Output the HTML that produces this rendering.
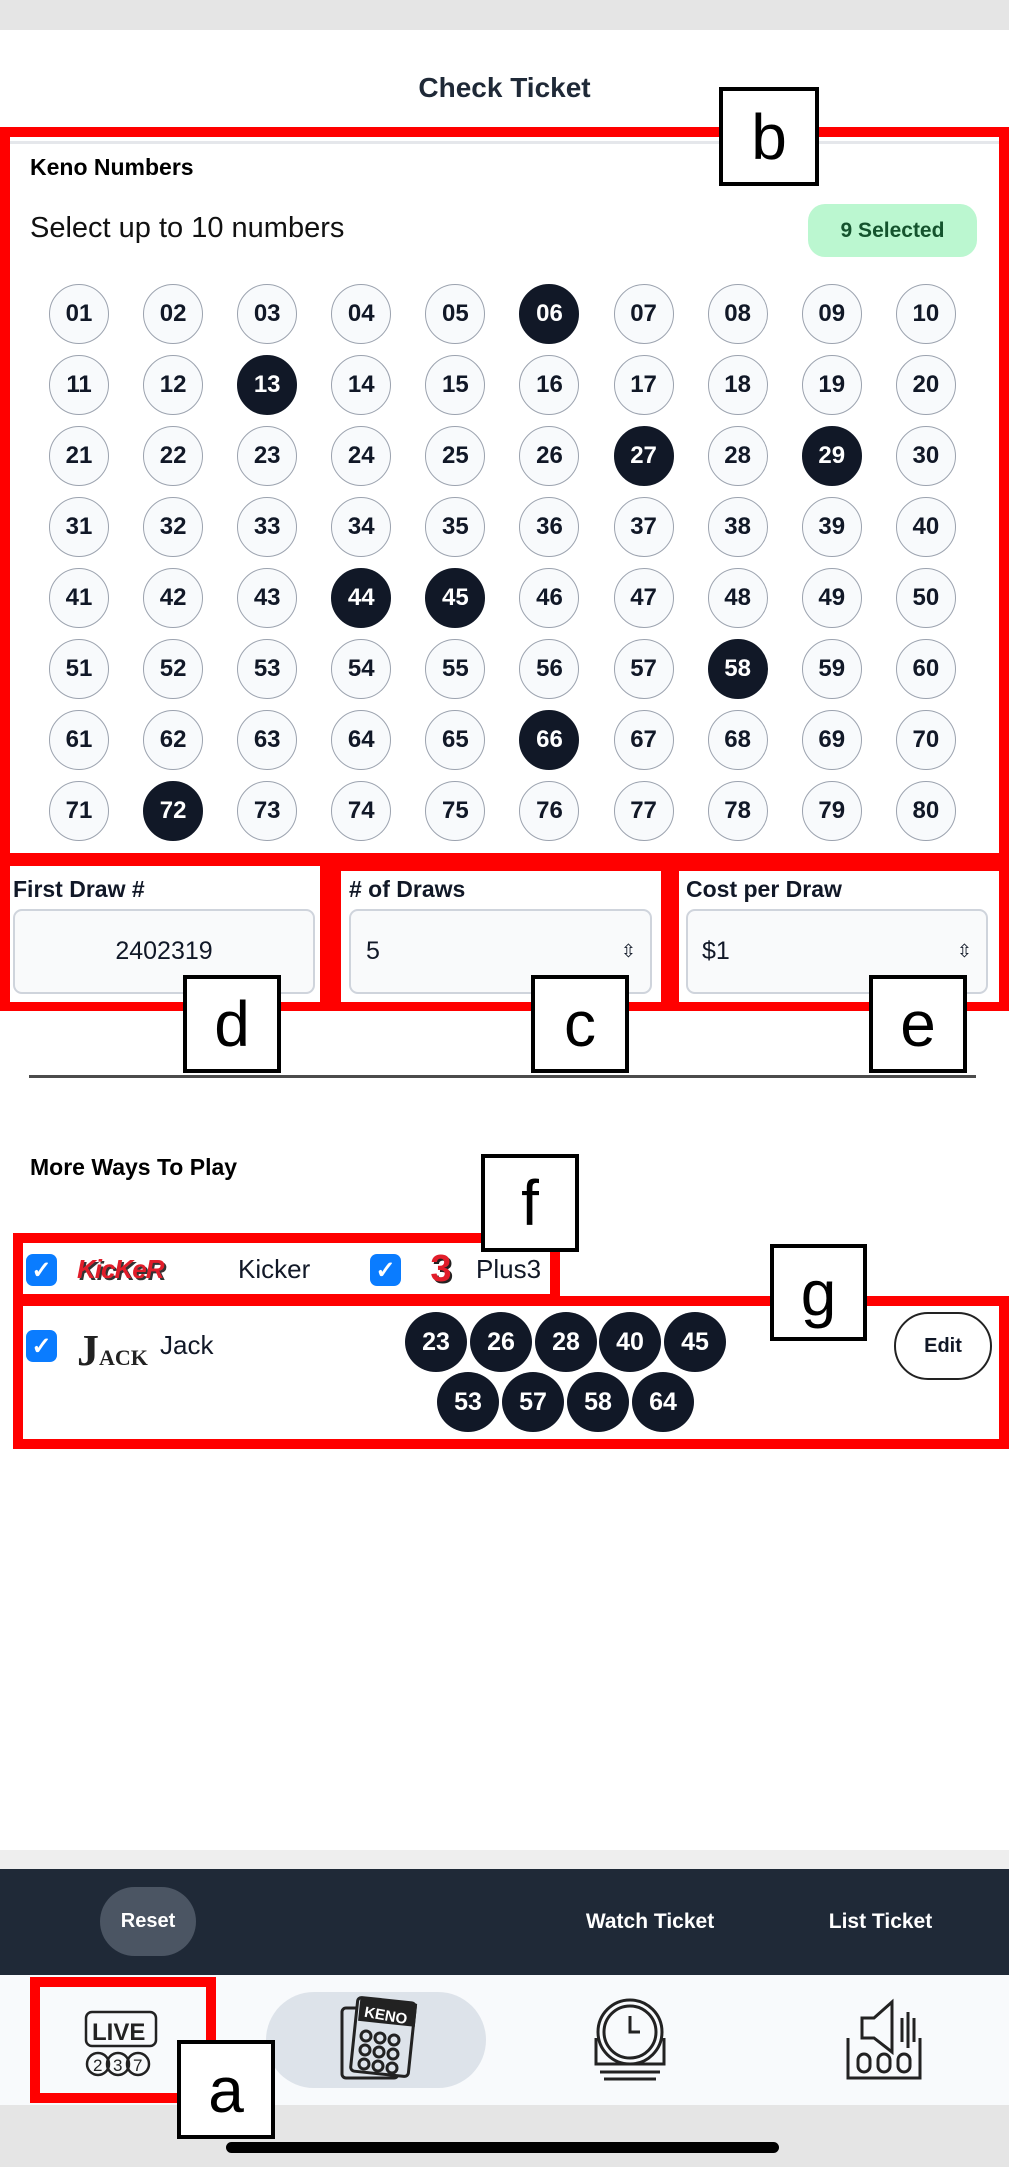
<!DOCTYPE html>
<html><head><meta charset="utf-8">
<style>
*{margin:0;padding:0;box-sizing:border-box}
body{width:1009px;height:2167px;position:relative;background:#fff;font-family:"Liberation Sans",sans-serif;color:#111827;overflow:hidden}
.a{position:absolute}
.lbl{position:absolute;background:#fff;border:4px solid #000;font-family:"Liberation Sans",sans-serif;font-size:64px;color:#000;display:flex;align-items:center;justify-content:center;line-height:1}
.grid{position:absolute;left:49px;top:284px;display:grid;grid-template-columns:repeat(10,60px);column-gap:34.1px;row-gap:11px}
.n{width:60px;height:60px;border-radius:50%;border:1.5px solid #9ca3af;background:#f8fafc;display:flex;align-items:center;justify-content:center;font-size:24px;font-weight:bold;color:#111827}
.n.s{background:#111827;border-color:#111827;color:#fff}
.inp{position:absolute;background:#f9fafb;border:2px solid #cfd4dc;border-radius:9px;font-size:25px;display:flex;align-items:center}
.fl{position:absolute;font-size:23px;font-weight:bold}
.cb{position:absolute;width:31px;height:32px;border-radius:7px;background:#0a7cff;color:#fff;font-size:24px;font-weight:bold;display:flex;align-items:center;justify-content:center}
.ball{position:absolute;width:62px;height:60px;border-radius:50%;background:#111827;color:#fff;font-size:25px;font-weight:bold;display:flex;align-items:center;justify-content:center}
</style></head><body>
<div class="a" style="left:0;top:0;width:1009px;height:30px;background:#e5e5e5"></div>
<div class="a" style="left:0;top:72px;width:1009px;text-align:center;font-size:28px;font-weight:bold;color:#1f2937">Check Ticket</div>

<!-- box b -->
<div class="a" style="left:0;top:127px;width:1009px;height:736px;border:10px solid #f00;border-bottom:none"></div>
<div class="a" style="left:10px;top:141px;width:989px;height:3px;background:#e5e7eb"></div>
<div class="a" style="left:30px;top:154px;font-size:23px;font-weight:bold;color:#000">Keno Numbers</div>
<div class="a" style="left:30px;top:212px;font-size:29px;color:#111">Select up to 10 numbers</div>
<div class="a" style="left:808px;top:204px;width:169px;height:53px;border-radius:17px;background:#bbf7d0;font-size:21px;font-weight:bold;display:flex;align-items:center;justify-content:center;color:#14532d">9 Selected</div>
<div class="grid">
<div class="n">01</div><div class="n">02</div><div class="n">03</div><div class="n">04</div><div class="n">05</div><div class="n s">06</div><div class="n">07</div><div class="n">08</div><div class="n">09</div><div class="n">10</div>
<div class="n">11</div><div class="n">12</div><div class="n s">13</div><div class="n">14</div><div class="n">15</div><div class="n">16</div><div class="n">17</div><div class="n">18</div><div class="n">19</div><div class="n">20</div>
<div class="n">21</div><div class="n">22</div><div class="n">23</div><div class="n">24</div><div class="n">25</div><div class="n">26</div><div class="n s">27</div><div class="n">28</div><div class="n s">29</div><div class="n">30</div>
<div class="n">31</div><div class="n">32</div><div class="n">33</div><div class="n">34</div><div class="n">35</div><div class="n">36</div><div class="n">37</div><div class="n">38</div><div class="n">39</div><div class="n">40</div>
<div class="n">41</div><div class="n">42</div><div class="n">43</div><div class="n s">44</div><div class="n s">45</div><div class="n">46</div><div class="n">47</div><div class="n">48</div><div class="n">49</div><div class="n">50</div>
<div class="n">51</div><div class="n">52</div><div class="n">53</div><div class="n">54</div><div class="n">55</div><div class="n">56</div><div class="n">57</div><div class="n s">58</div><div class="n">59</div><div class="n">60</div>
<div class="n">61</div><div class="n">62</div><div class="n">63</div><div class="n">64</div><div class="n">65</div><div class="n s">66</div><div class="n">67</div><div class="n">68</div><div class="n">69</div><div class="n">70</div>
<div class="n">71</div><div class="n s">72</div><div class="n">73</div><div class="n">74</div><div class="n">75</div><div class="n">76</div><div class="n">77</div><div class="n">78</div><div class="n">79</div><div class="n">80</div>
</div>
<div class="lbl" style="left:719px;top:87px;width:100px;height:99px">b</div>

<!-- d/c/e row -->
<div class="a" style="left:0;top:853px;width:1009px;height:158px;background:#f00"></div>
<div class="a" style="left:10px;top:866px;width:310px;height:136px;background:#fff"></div>
<div class="a" style="left:341px;top:871px;width:320px;height:131px;background:#fff"></div>
<div class="a" style="left:679px;top:871px;width:320px;height:131px;background:#fff"></div>
<div class="fl" style="left:13px;top:876px">First Draw #</div>
<div class="fl" style="left:349px;top:876px"># of Draws</div>
<div class="fl" style="left:686px;top:876px">Cost per Draw</div>
<div class="inp" style="left:13px;top:909px;width:302px;height:85px;justify-content:center">2402319</div>
<div class="inp" style="left:349px;top:909px;width:303px;height:85px;padding-left:15px">5<span style="position:absolute;right:14px;font-size:18px">&#8691;</span></div>
<div class="inp" style="left:686px;top:909px;width:302px;height:85px;padding-left:14px">$1<span style="position:absolute;right:14px;font-size:18px">&#8691;</span></div>
<div class="lbl" style="left:183px;top:975px;width:98px;height:98px">d</div>
<div class="lbl" style="left:531px;top:975px;width:98px;height:98px">c</div>
<div class="lbl" style="left:869px;top:975px;width:98px;height:98px">e</div>
<div class="a" style="left:29px;top:1075px;width:947px;height:3px;background:#4b4b4b"></div>

<div class="a" style="left:30px;top:1154px;font-size:23px;font-weight:bold;color:#000">More Ways To Play</div>

<!-- f -->
<div class="a" style="left:13px;top:1233px;width:547px;height:63px;border:10px solid #f00;border-bottom:none"></div>
<div class="cb" style="left:26px;top:1254px">&#10003;</div>
<div class="a" style="left:77px;top:1254px;width:142px;height:34px;font-size:26px;font-weight:bold;font-style:italic;color:#e11d2a;letter-spacing:-1px;text-shadow:2px 2px 0 #333">KicKeR</div>
<div class="a" style="left:238px;top:1254px;font-size:26px">Kicker</div>
<div class="cb" style="left:370px;top:1254px">&#10003;</div>
<div class="a" style="left:421px;top:1246px;width:40px;height:46px;font-size:38px;font-weight:bold;color:#e11d2a;text-shadow:2px 2px 0 #222;line-height:46px;text-align:center">3</div>
<div class="a" style="left:476px;top:1254px;font-size:26px">Plus3</div>
<div class="lbl" style="left:481px;top:1154px;width:98px;height:98px">f</div>

<!-- g -->
<div class="a" style="left:13px;top:1296px;width:996px;height:153px;border:10px solid #f00"></div>
<div class="a" style="left:13px;top:1294px;width:547px;height:10px;background:#f00"></div>
<div class="cb" style="left:26px;top:1330px">&#10003;</div>
<div class="a" style="left:77px;top:1323px;width:65px;height:56px;font-family:'Liberation Serif',serif;font-size:44px;font-weight:bold;color:#222;line-height:56px">J<span style="font-size:22px">ACK</span></div>
<div class="a" style="left:160px;top:1330px;font-size:26px">Jack</div>
<div class="ball" style="left:405px;top:1312px">23</div>
<div class="ball" style="left:470px;top:1312px">26</div>
<div class="ball" style="left:535px;top:1312px">28</div>
<div class="ball" style="left:599px;top:1312px">40</div>
<div class="ball" style="left:664px;top:1312px">45</div>
<div class="ball" style="left:437px;top:1372px">53</div>
<div class="ball" style="left:502px;top:1372px">57</div>
<div class="ball" style="left:567px;top:1372px">58</div>
<div class="ball" style="left:632px;top:1372px">64</div>
<div class="a" style="left:894px;top:1312px;width:98px;height:68px;border:2px solid #222;border-radius:34px;font-size:20px;font-weight:bold;display:flex;align-items:center;justify-content:center">Edit</div>
<div class="lbl" style="left:770px;top:1244px;width:97px;height:97px">g</div>

<!-- bottom -->
<div class="a" style="left:0;top:1850px;width:1009px;height:19px;background:#eeeeee"></div>
<div class="a" style="left:0;top:1869px;width:1009px;height:106px;background:#1f2937"></div>
<div class="a" style="left:100px;top:1887px;width:96px;height:69px;border-radius:35px;background:#4b5563;color:#fff;font-size:20px;font-weight:bold;display:flex;align-items:center;justify-content:center">Reset</div>
<div class="a" style="left:573px;top:1910px;width:154px;text-align:center;color:#fff;font-size:21px;font-weight:bold">Watch Ticket</div>
<div class="a" style="left:820px;top:1910px;width:121px;text-align:center;color:#fff;font-size:21px;font-weight:bold">List Ticket</div>
<div class="a" style="left:0;top:1975px;width:1009px;height:130px;background:#f8fafc"></div>
<div class="a" style="left:0;top:2105px;width:1009px;height:62px;background:#e5e5e5"></div>
<div class="a" style="left:226px;top:2142px;width:553px;height:11px;border-radius:6px;background:#000"></div>
<div class="a" style="left:266px;top:1992px;width:220px;height:96px;border-radius:48px;background:#dde3ea"></div>
<!-- icons -->
<svg class="a" style="left:80px;top:1998px" width="84" height="84" viewBox="0 0 84 84" fill="none" stroke="#222" stroke-width="2.5">
<rect x="6" y="14" width="70" height="34" rx="6"/><text x="12" y="42" font-family="Liberation Sans" font-weight="bold" font-size="24" fill="#222" stroke="none">LIVE</text>
<circle cx="18" cy="66" r="11"/><circle cx="38" cy="66" r="11"/><circle cx="58" cy="66" r="11"/>
<text x="13" y="73" font-family="Liberation Sans" font-size="17" fill="#222" stroke="none">2</text><text x="33" y="73" font-family="Liberation Sans" font-size="17" fill="#222" stroke="none">3</text><text x="53" y="73" font-family="Liberation Sans" font-size="17" fill="#222" stroke="none">7</text></svg>
<svg class="a" style="left:338px;top:1996px" width="80" height="86" viewBox="0 0 80 86" fill="none" stroke="#222" stroke-width="3">
<rect x="4" y="12" width="56" height="70" rx="4"/><rect x="16" y="4" width="58" height="74" rx="4" fill="#dde3ea" transform="rotate(6 45 41)"/>
<rect x="20" y="6" width="54" height="20" fill="#222" transform="rotate(6 45 41)"/><text x="26" y="24" font-family="Liberation Sans" font-weight="bold" font-size="15" fill="#fff" stroke="none" transform="rotate(10 45 20)">KENO</text>
<circle cx="28" cy="40" r="5"/><circle cx="42" cy="42" r="5"/><circle cx="56" cy="44" r="5"/><circle cx="27" cy="54" r="5"/><circle cx="41" cy="56" r="5"/><circle cx="55" cy="58" r="5"/><circle cx="26" cy="68" r="5"/><circle cx="40" cy="70" r="5"/><circle cx="54" cy="72" r="5"/></svg>
<svg class="a" style="left:590px;top:1998px" width="80" height="84" viewBox="0 0 80 84" fill="none" stroke="#222" stroke-width="3">
<circle cx="40" cy="34" r="32"/><circle cx="40" cy="34" r="26"/><path d="M40 18v16h10"/><path d="M6 40v26h68V40"/><path d="M10 74h60M14 81h52"/></svg>
<svg class="a" style="left:844px;top:1998px" width="82" height="84" viewBox="0 0 82 84" fill="none" stroke="#222" stroke-width="3">
<path d="M18 20h12l18-16v50L30 40H18z"/><path d="M58 20v24M64 14v36M70 20v24"/><path d="M4 40v40h72V40"/><rect x="14" y="56" width="12" height="18" rx="6"/><rect x="34" y="56" width="12" height="18" rx="6"/><rect x="54" y="56" width="12" height="18" rx="6"/></svg>
<div class="a" style="left:30px;top:1977px;width:186px;height:126px;border:10px solid #f00"></div>
<div class="lbl" style="left:177px;top:2040px;width:98px;height:99px">a</div>
</body></html>
